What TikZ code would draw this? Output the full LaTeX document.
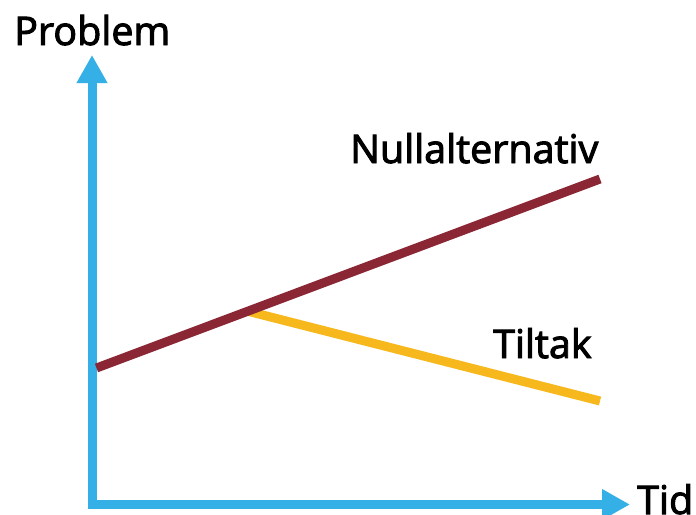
\documentclass[tikz,border=0pt]{standalone}
\usepackage{fontspec}
\setmainfont{Open Sans}
\newfontfamily\lblfont{Open Sans}[FakeBold=2.5]
\usetikzlibrary{arrows.meta}
\definecolor{axisblue}{HTML}{35B0E6}
\definecolor{nullred}{HTML}{8B2635}
\definecolor{tiltakyellow}{HTML}{F6B81C}
\begin{document}
\begin{tikzpicture}[x=1pt,y=-1pt,
  axisline/.style={draw=axisblue,line width=9pt,line join=miter,
    {Triangle[length=28pt,width=29pt]}-{Triangle[length=28pt,width=29pt]}},
  trendline/.style={line width=9pt,line cap=butt},
  lbl/.style={anchor=base west,inner sep=0pt,font=\lblfont\fontsize{39.5}{44}\selectfont,text=black}]
\useasboundingbox (0,0) rectangle (696,514);
\coordinate (ytip) at (92,55);
\coordinate (origin) at (92,504.5);
\coordinate (xtip) at (630,504.5);
\draw[axisline] (ytip) -- (origin) -- (xtip);
\coordinate (n0) at (96.5,368);
\coordinate (nsplit) at (247,311);
\coordinate (n1) at (600,179);
\coordinate (t1) at (600,401);
\draw[trendline,draw=tiltakyellow] (nsplit) -- (t1);
\draw[trendline,draw=nullred] (n0) -- (n1);
\node[lbl] (problem) at (14,45) {Problem};
\node[lbl] (tid) at (637,514) {Tid};
\node[lbl] (null) at (350,163) {Nullalternativ};
\node[lbl] (tiltak) at (493,358) {Tiltak};
\end{tikzpicture}
\end{document}
